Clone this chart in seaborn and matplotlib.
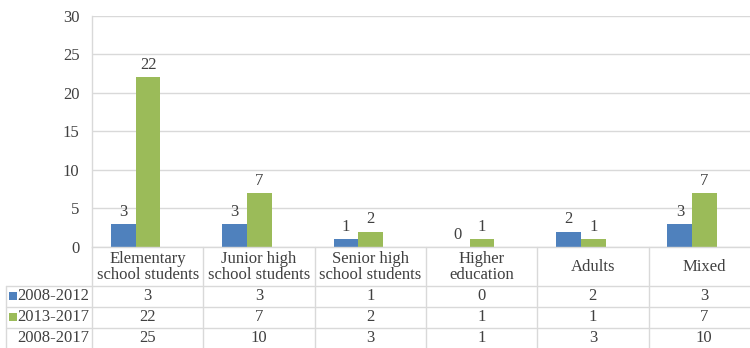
import matplotlib
matplotlib.use("Agg")
import matplotlib.pyplot as plt
import seaborn as sns
import pandas as pd
from matplotlib.patches import Rectangle

categories = ["Elementary\nschool students", "Junior high\nschool students",
              "Senior high\nschool students", "Higher\neducation", "Adults", "Mixed"]
series_names = ["2008-2012", "2013-2017"]
vals_2008_2012 = [3, 3, 1, 0, 2, 3]
vals_2013_2017 = [22, 7, 2, 1, 1, 7]
total_name = "2008-2017"
vals_2008_2017 = [25, 10, 3, 1, 3, 10]
y_ticks = [0, 5, 10, 15, 20, 25, 30]

colors = ["#4F81BD", "#9BBB59"]
text_color = "#404040"
grid_color = "#D9D9D9"
FONT = "Liberation Serif"
FS = 12

sns.set_theme(style="white")
plt.rcParams["font.family"] = [FONT, "DejaVu Serif"]

rows = []
for name, vals in zip(series_names, [vals_2008_2012, vals_2013_2017]):
    for c, v in zip(categories, vals):
        rows.append({"cat": c, "period": name, "val": v})
df = pd.DataFrame(rows)

W, H = 750, 348
fig = plt.figure(figsize=(W / 100, H / 100), dpi=100)

ax_left, ax_right, ax_top, ax_bot = 92, 750, 15.7, 247
ax = fig.add_axes([ax_left / W, (H - ax_bot) / H, (ax_right - ax_left) / W, (ax_bot - ax_top) / H])
sns.barplot(data=df, x="cat", y="val", hue="period", palette=colors, width=0.444,
            saturation=1, ax=ax, legend=False, order=categories, hue_order=series_names,
            linewidth=0, edgecolor="none")
for cont in ax.containers:
    ax.bar_label(cont, fontsize=FS, color=text_color, padding=3)

cat_w = 111.3
first_center = 135.7
ax.set_xlim((ax_left - first_center) / cat_w, (ax_right - first_center) / cat_w)
ax.set_ylim(0, 30)
ax.set_yticks(y_ticks)
ax.set_yticklabels([str(t) for t in y_ticks], fontsize=FS, color=text_color)
ax.yaxis.grid(True, color=grid_color, linewidth=1)
ax.set_axisbelow(True)
ax.tick_params(axis="y", length=0, pad=9)
ax.tick_params(axis="x", length=0, labelbottom=False)
ax.set_xlabel("")
ax.set_ylabel("")
for s in ["top", "right"]:
    ax.spines[s].set_visible(False)
for s in ["left", "bottom"]:
    ax.spines[s].set_color(grid_color)
    ax.spines[s].set_linewidth(1)

# data table below the chart
tab = fig.add_axes([0, 0, 1, 1])
tab.set_xlim(0, W)
tab.set_ylim(H, 0)
tab.axis("off")

col_left = 92
row_lines = [285.5, 306.5, 327.5]
row_centers = [296, 317, 338]
n = len(categories)
for k in range(n + 1):
    x = col_left + cat_w * k
    tab.plot([x, x], [ax_bot, H + 2], color=grid_color, lw=1, clip_on=False)
for y in row_lines:
    tab.plot([5.5, W], [y, y], color=grid_color, lw=1)
tab.plot([5.5, 5.5], [row_lines[0], H + 2], color=grid_color, lw=1, clip_on=False)

for k, c in enumerate(categories):
    xc = col_left + cat_w * (k + 0.5)
    tab.text(xc, 267, c, ha="center", va="center", fontsize=FS, color=text_color,
             linespacing=1.05)

table_rows = [(series_names[0], vals_2008_2012, colors[0]),
              (series_names[1], vals_2013_2017, colors[1]),
              (total_name, vals_2008_2017, None)]
for (label, vals, col), yc in zip(table_rows, row_centers):
    tab.text(89, yc, label, ha="right", va="center", fontsize=FS, color=text_color)
    if col is not None:
        tab.add_patch(Rectangle((9, yc - 4), 8, 8, color=col, lw=0))
    for k, v in enumerate(vals):
        xc = col_left + cat_w * (k + 0.5)
        tab.text(xc, yc, str(v), ha="center", va="center", fontsize=FS, color=text_color)

fig.savefig("out.png", dpi=100)
